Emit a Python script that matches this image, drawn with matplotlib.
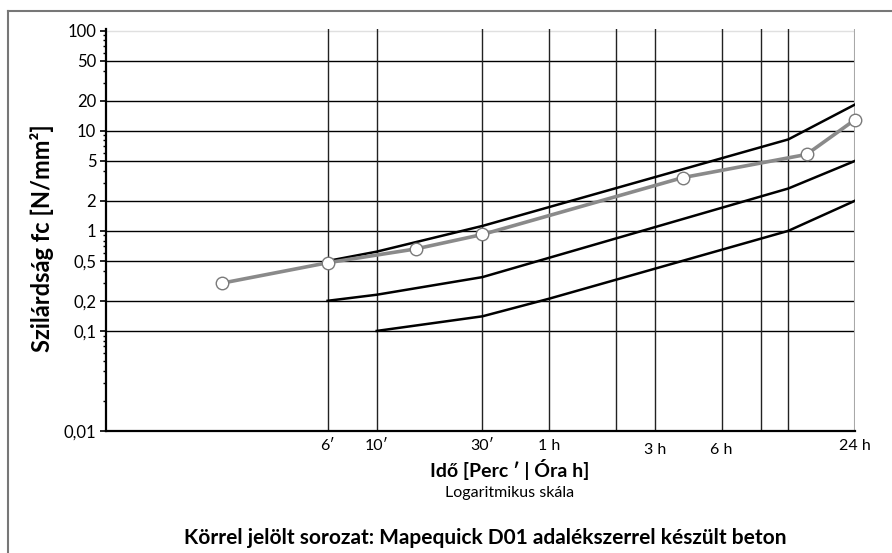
import numpy as np
import matplotlib.pyplot as plt
from matplotlib.lines import Line2D
from matplotlib.ticker import FixedLocator, NullFormatter

plt.rcParams['font.family'] = ['Lato', 'DejaVu Sans']

# time in minutes
upper_t = [6, 10, 30, 720, 1440]
upper_v = [0.5, 0.62, 1.12, 8.2, 18.3]
mid_t = [6, 10, 30, 720, 1440]
mid_v = [0.2, 0.23, 0.345, 2.65, 5.0]
low_t = [10, 30, 60, 720, 1440]
low_v = [0.1, 0.14, 0.21, 1.0, 2.0]

# circle-marked series (Mapequick D01)
mq_t = [2, 6, 15, 30, 240, 870, 1440]
mq_v = [0.3, 0.48, 0.66, 0.92, 3.4, 5.8, 12.9]

y_ticks = [0.01, 0.1, 0.2, 0.5, 1, 2, 5, 10, 20, 50, 100]
y_labels = ['0,01', '0,1', '0,2', '0,5', '1', '2', '5', '10', '20', '50', '100']
y_grid = [0.1, 0.2, 0.5, 1, 2, 5, 10, 20, 50]
x_grid = [6, 10, 30, 60, 120, 180, 360, 540, 720]
x_ticks = [6, 10, 30, 60, 180, 360, 1440]
x_labels = ['6\u2032', '10\u2032', '30\u2032', '1 h', '3 h', '6 h', '24 h']
x_label_drop = [0, 0, 0, 0, 4, 4, 0]  # px, a few labels sit lower

fig = plt.figure(figsize=(8.92, 5.53), dpi=100)
ax = fig.add_axes([106/892, 1-431/553, (855-106)/892, (431-29)/553])
ax.set_xscale('log')
ax.set_yscale('log')
ax.set_xlim(0.6, 1440)
ax.set_ylim(0.01, 104)

for v in y_grid:
    ax.axhline(v, color='black', lw=1.0, zorder=1)
ax.axhline(100, color='#e0e0e0', lw=1.0, zorder=1)
for t in x_grid:
    ax.axvline(t, color='#222222', lw=1.0, zorder=1)
ax.axvline(1440, color='#a8a8a8', lw=1.5, zorder=1)

ax.plot(upper_t, upper_v, color='black', lw=1.8, zorder=3)
ax.plot(mid_t, mid_v, color='black', lw=1.8, zorder=3)
ax.plot(low_t, low_v, color='black', lw=1.8, zorder=3)
ax.plot(mq_t, mq_v, color='#8a8a8a', lw=2.6, marker='o', markersize=9,
        markerfacecolor='white', markeredgecolor='#7a7a7a', markeredgewidth=1.0,
        zorder=4, clip_on=False)

for s in ['top', 'right']:
    ax.spines[s].set_visible(False)
ax.spines['left'].set_linewidth(1.6)
ax.spines['bottom'].set_linewidth(1.6)

ax.yaxis.set_major_locator(FixedLocator(y_ticks))
ax.set_yticklabels(y_labels)
minor = [m * 10.0**e for e in range(-2, 2) for m in range(2, 10)]
ax.yaxis.set_minor_locator(FixedLocator(minor))
ax.yaxis.set_minor_formatter(NullFormatter())
ax.tick_params(axis='y', which='major', length=4, width=1.2, labelsize=12, pad=3)
ax.tick_params(axis='y', which='minor', length=2.5, width=1.0)
ax.set_xticks([])
ax.xaxis.set_minor_locator(FixedLocator([]))

for t, lab, d in zip(x_ticks, x_labels, x_label_drop):
    ax.annotate(lab, xy=(t, 0), xycoords=('data', 'axes fraction'),
                xytext=(0, -6 - d * 0.72), textcoords='offset points',
                ha='center', va='top', fontsize=11.5)

fig.text(42/892, 1-238/553, 'Szil\u00e1rds\u00e1g fc [N/mm\u00b2]', rotation=90,
         ha='center', va='center', fontsize=17, fontweight='bold')
fig.text(510/892, 1-469/553, 'Id\u0151 [Perc \u2032 | \u00d3ra h]',
         ha='center', va='center', fontsize=14, fontweight='bold')
fig.text(510/892, 1-493/553, 'Logaritmikus sk\u00e1la',
         ha='center', va='center', fontsize=11.5)
fig.text(485/892, 1-538/553,
         'K\u00f6rrel jel\u00f6lt sorozat: Mapequick D01 adal\u00e9kszerrel k\u00e9sz\u00fclt beton',
         ha='center', va='center', fontsize=15, fontweight='bold')

# outer frame (runs off the right and bottom edges)
fig.add_artist(Line2D([8/892, 1.0], [1-10.5/553]*2, color='#777777', lw=1.5,
                      transform=fig.transFigure))
fig.add_artist(Line2D([8/892]*2, [0.0, 1-10.5/553], color='#777777', lw=1.5,
                      transform=fig.transFigure))

fig.savefig('out.png', dpi=100)
